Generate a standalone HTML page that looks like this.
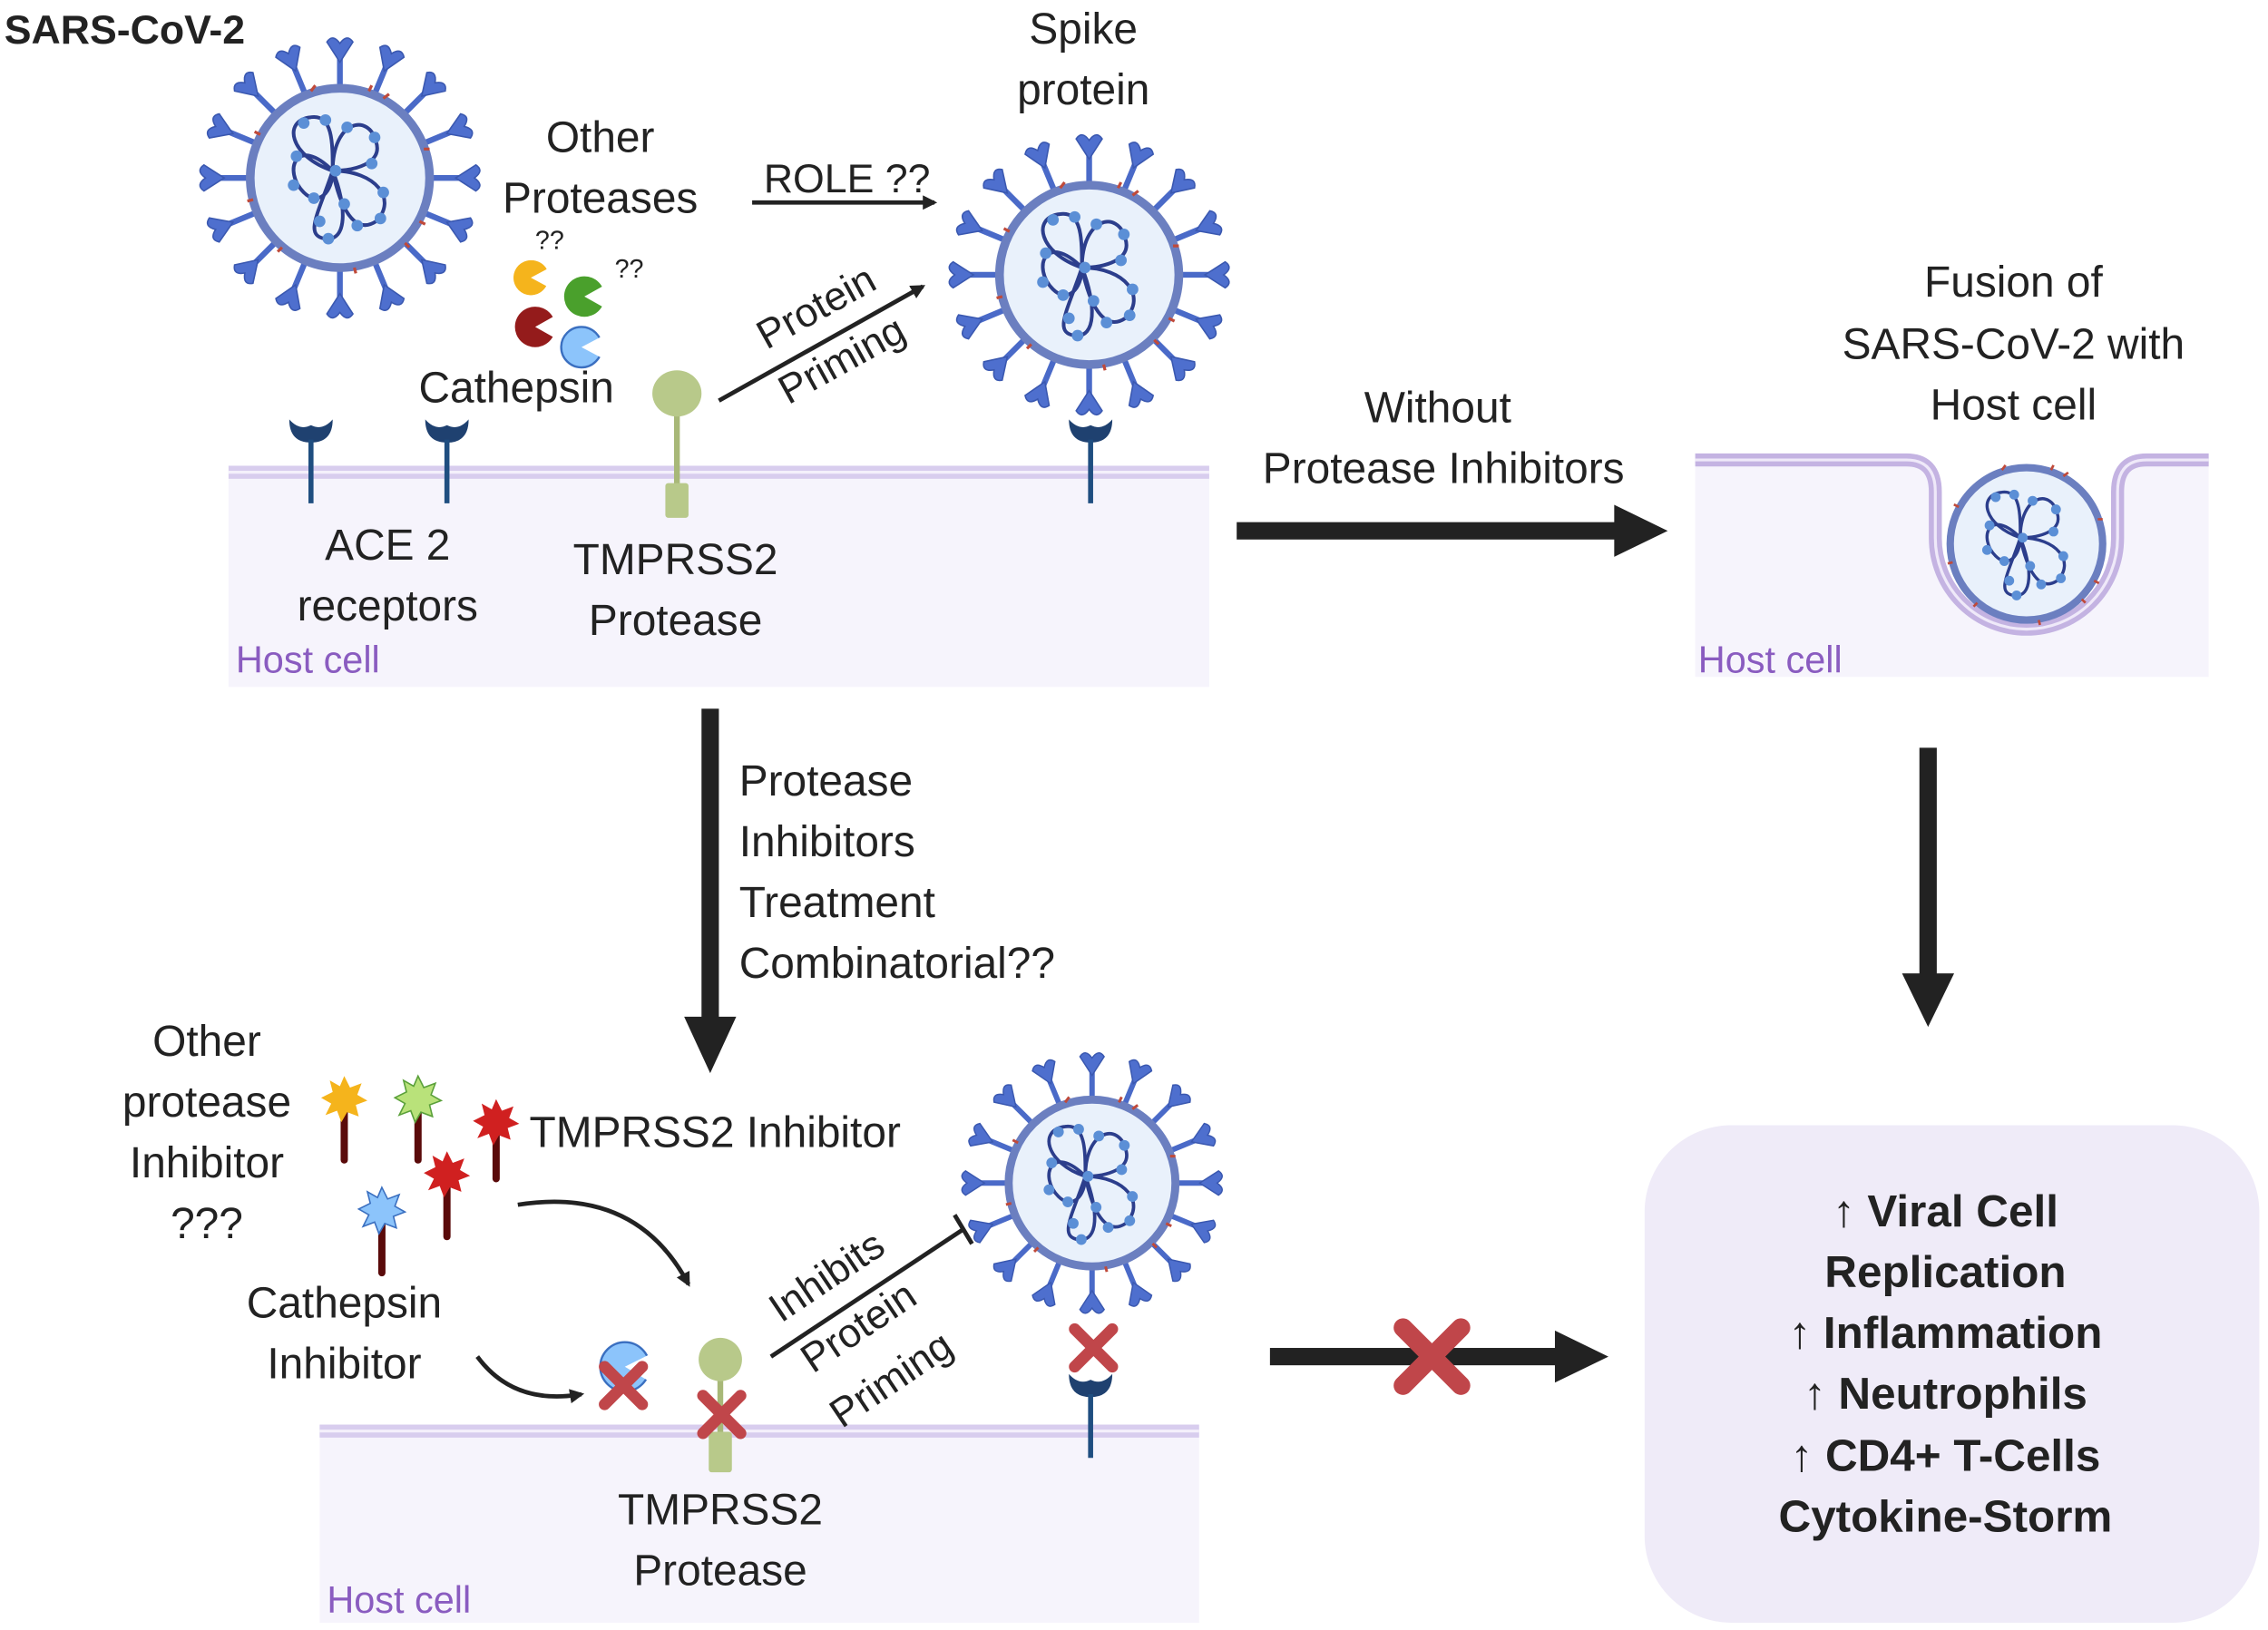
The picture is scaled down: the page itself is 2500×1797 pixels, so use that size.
<!DOCTYPE html>
<html><head><meta charset="utf-8"><style>
html,body{margin:0;padding:0;background:#fff;}
svg{display:block;}
text{font-family:"Liberation Sans",sans-serif;fill:#222;}
</style></head><body>
<svg width="2500" height="1797" viewBox="0 0 1568 1127" xmlns="http://www.w3.org/2000/svg">
<defs>
<g id="sp">
 <line x1="0" y1="-60" x2="0" y2="-84" stroke="#4a6ac8" stroke-width="4"/>
 <path d="M0,-80 L-9,-94 Q-5,-100 0,-93 Q5,-100 9,-94 Z" fill="#4e6fce" stroke="#3a58b0" stroke-width="1"/>
</g>
<g id="core">
 <circle r="62" fill="#e9f1fb" stroke="#6b7fc0" stroke-width="6"/>
 <g fill="none" stroke="#2c3e8c" stroke-width="2.5">
  <path d="M-5,-5 C-30,-30 -40,-5 -25,10 C-15,20 -5,10 -5,-5"/>
  <path d="M-5,-5 C-5,-40 20,-45 25,-25 C30,-10 10,-5 -5,-5"/>
  <path d="M-5,-5 C25,-5 40,15 25,30 C10,40 0,20 -5,-5"/>
  <path d="M-5,-5 C-15,25 -25,40 -10,42 C5,44 5,20 -5,-5"/>
  <path d="M-5,-5 C-35,-15 -40,-40 -20,-42 C-5,-44 -5,-25 -5,-5"/>
 </g>
 <g fill="#5b8fd6">
  <circle cx="-30" cy="-15" r="4"/><circle cx="-32" cy="5" r="4"/><circle cx="-18" cy="14" r="4"/>
  <circle cx="5" cy="-35" r="4"/><circle cx="24" cy="-28" r="4"/><circle cx="22" cy="-10" r="4"/>
  <circle cx="30" cy="10" r="4"/><circle cx="28" cy="28" r="4"/><circle cx="12" cy="33" r="4"/>
  <circle cx="-14" cy="30" r="4"/><circle cx="-8" cy="42" r="4"/><circle cx="3" cy="18" r="4"/>
  <circle cx="-25" cy="-38" r="4"/><circle cx="-10" cy="-40" r="4"/><circle cx="-3" cy="-5" r="4"/>
 </g>
 <g stroke="#c04a3a" stroke-width="2">
  <path d="M-20,-60 l3,-4 M30,-55 l4,-3 M58,-20 l4,0 M55,30 l4,2 M20,-60 l2,-4 M-55,-30 l-4,-2 M-60,15 l-4,1 M-40,48 l-3,3 M10,62 l1,4 M45,45 l3,3"/>
 </g>
</g>
<g id="virus">
 <use href="#sp"/><use href="#sp" transform="rotate(22.5)"/><use href="#sp" transform="rotate(45)"/><use href="#sp" transform="rotate(67.5)"/>
 <use href="#sp" transform="rotate(90)"/><use href="#sp" transform="rotate(112.5)"/><use href="#sp" transform="rotate(135)"/><use href="#sp" transform="rotate(157.5)"/>
 <use href="#sp" transform="rotate(180)"/><use href="#sp" transform="rotate(202.5)"/><use href="#sp" transform="rotate(225)"/><use href="#sp" transform="rotate(247.5)"/>
 <use href="#sp" transform="rotate(270)"/><use href="#sp" transform="rotate(292.5)"/><use href="#sp" transform="rotate(315)"/><use href="#sp" transform="rotate(337.5)"/>
 <use href="#core"/>
</g>
<g id="rec">
 <path d="M-15,0 Q-15,16 0,16 Q15,16 15,0 Q8,8 0,4 Q-8,8 -15,0 Z" fill="#1f4170"/>
 <line x1="0" y1="14" x2="0" y2="58" stroke="#1f4e80" stroke-width="3.5"/>
</g>
<g id="rx">
 <path d="M-13,-13 L13,13 M13,-13 L-13,13" stroke="#c0464a" stroke-width="8" stroke-linecap="round"/>
</g>
<marker id="ah" markerWidth="10" markerHeight="10" refX="8" refY="5" orient="auto" markerUnits="userSpaceOnUse"><path d="M0,0 L10,5 L0,10 Z" fill="#222"/></marker>
<marker id="ah2" markerWidth="14" markerHeight="14" refX="10" refY="7" orient="auto" markerUnits="userSpaceOnUse"><path d="M0,0 L14,7 L0,14 Z" fill="#222"/></marker>
</defs>

<!-- top host cell -->
<rect x="158" y="322" width="678" height="153" fill="#f6f4fc"/>
<rect x="158" y="322" width="678" height="9" fill="#d8cdee"/>
<line x1="158" y1="326.5" x2="836" y2="326.5" stroke="#f4f0fb" stroke-width="2"/>
<text x="163" y="465" font-size="26" style="fill:#8a5cc0">Host cell</text>

<text x="3" y="30" font-size="28" font-weight="bold">SARS-CoV-2</text>
<use href="#virus" transform="translate(235,123)"/>
<text x="415" y="105" font-size="30" text-anchor="middle">Other</text>
<text x="415" y="147" font-size="30" text-anchor="middle">Proteases</text>
<text x="380" y="172" font-size="18" text-anchor="middle">??</text>
<text x="435" y="192" font-size="18" text-anchor="middle">??</text>
<path d="M367,192 m0,-12 a12,12 0 1,0 11,7 l-11,5 l11,-6 a12,12 0 0,0 -11,-6z" fill="#f5b41c"/>
<circle cx="367" cy="192" r="12" fill="#f5b41c"/><path d="M367,192 L382,184 L382,200 Z" fill="#fff"/>
<circle cx="404" cy="205" r="14" fill="#4aa02c"/><path d="M404,205 L420,196 L420,214 Z" fill="#fff"/>
<circle cx="370" cy="226" r="14" fill="#941b1b"/><path d="M370,226 L386,217 L386,235 Z" fill="#fff"/>
<circle cx="402" cy="240" r="14" fill="#8cc4fb" stroke="#3a6fc0" stroke-width="1.5"/><path d="M402,240 L419,231 L419,249 Z" fill="#fff"/>
<text x="357" y="278" font-size="30" text-anchor="middle">Cathepsin</text>

<use href="#rec" transform="translate(215,290)"/>
<use href="#rec" transform="translate(309,290)"/>
<use href="#rec" transform="translate(754,290)"/>
<line x1="468" y1="285" x2="468" y2="338" stroke="#a8b878" stroke-width="4"/>
<rect x="460" y="334" width="16" height="24" rx="2" fill="#b8c98a"/>
<ellipse cx="468" cy="272" rx="17" ry="16" fill="#b8c98a"/>
<text x="268" y="387" font-size="30" text-anchor="middle">ACE 2</text>
<text x="268" y="429" font-size="30" text-anchor="middle">receptors</text>
<text x="467" y="397" font-size="30" text-anchor="middle">TMPRSS2</text>
<text x="467" y="439" font-size="30" text-anchor="middle">Protease</text>

<text x="528" y="133" font-size="28">ROLE ??</text>
<line x1="520" y1="140" x2="646" y2="140" stroke="#222" stroke-width="3" marker-end="url(#ah)"/>
<line x1="497" y1="277" x2="638" y2="198" stroke="#222" stroke-width="3" marker-end="url(#ah)"/>
<text transform="translate(530,242) rotate(-29)" font-size="28">Protein</text>
<text transform="translate(545,280) rotate(-29)" font-size="28">Priming</text>

<text x="749" y="30" font-size="30" text-anchor="middle">Spike</text>
<text x="749" y="72" font-size="30" text-anchor="middle">protein</text>
<use href="#virus" transform="translate(753,190)"/>

<!-- without arrow -->
<text x="994" y="292" font-size="30" text-anchor="middle">Without</text>
<text x="998" y="334" font-size="30" text-anchor="middle">Protease Inhibitors</text>
<rect x="855" y="361" width="266" height="12" fill="#222"/>
<path d="M1116,349 L1153,367 L1116,385 Z" fill="#222"/>

<!-- fusion -->
<text x="1392" y="205" font-size="30" text-anchor="middle">Fusion of</text>
<text x="1392" y="248" font-size="30" text-anchor="middle">SARS-CoV-2 with</text>
<text x="1392" y="290" font-size="30" text-anchor="middle">Host cell</text>
<path d="M1172,318 L1318,318 Q1338,318 1338,340 L1338,372 A63,63 0 0 0 1464,372 L1464,340 Q1464,318 1484,318 L1527,318 L1527,468 L1172,468 Z" fill="#f6f4fc"/>
<path d="M1172,318 L1318,318 Q1338,318 1338,340 L1338,372 A63,63 0 0 0 1464,372 L1464,340 Q1464,318 1484,318 L1527,318" fill="none" stroke="#c4b3e2" stroke-width="9"/>
<path d="M1172,318 L1318,318 Q1338,318 1338,340 L1338,372 A63,63 0 0 0 1464,372 L1464,340 Q1464,318 1484,318 L1527,318" fill="none" stroke="#efe9f9" stroke-width="2"/>
<g transform="translate(1401,376) scale(0.85)"><use href="#core"/></g>
<text x="1174" y="465" font-size="26" style="fill:#8a5cc0">Host cell</text>

<!-- right down arrow -->
<rect x="1327" y="517" width="12" height="160" fill="#222"/>
<path d="M1315,673 L1333,710 L1351,673 Z" fill="#222"/>

<!-- middle down arrow -->
<rect x="485" y="490" width="12" height="215" fill="#222"/>
<path d="M473,703 L491,742 L509,703 Z" fill="#222"/>
<text x="511" y="550" font-size="30">Protease</text>
<text x="511" y="592" font-size="30">Inhibitors</text>
<text x="511" y="634" font-size="30">Treatment</text>
<text x="511" y="676" font-size="30">Combinatorial??</text>

<!-- bottom host cell -->
<rect x="221" y="985" width="608" height="137" fill="#f6f4fc"/>
<rect x="221" y="985" width="608" height="9" fill="#d8cdee"/>
<line x1="221" y1="989.5" x2="829" y2="989.5" stroke="#f4f0fb" stroke-width="2"/>
<text x="226" y="1115" font-size="26" style="fill:#8a5cc0">Host cell</text>

<text x="143" y="730" font-size="30" text-anchor="middle">Other</text>
<text x="143" y="772" font-size="30" text-anchor="middle">protease</text>
<text x="143" y="814" font-size="30" text-anchor="middle">Inhibitor</text>
<text x="143" y="856" font-size="30" text-anchor="middle">???</text>

<g stroke="#5a0a0a" stroke-width="5" stroke-linecap="round">
<line x1="238" y1="765" x2="238" y2="802"/>
<line x1="289" y1="765" x2="289" y2="802"/>
<line x1="343" y1="782" x2="343" y2="815"/>
<line x1="309" y1="815" x2="309" y2="855"/>
<line x1="264" y1="842" x2="264" y2="880"/>
</g>
<g stroke-width="1">
<polygon transform="translate(238,760)" points="0,-16 4,-8 12,-11 9,-3 16,1 8,4 10,12 2,9 -2,16 -5,8 -13,11 -9,3 -16,-1 -8,-5 -10,-13 -3,-9" fill="#f5b41c"/>
<polygon transform="translate(289,760)" points="0,-16 4,-8 12,-11 9,-3 16,1 8,4 10,12 2,9 -2,16 -5,8 -13,11 -9,3 -16,-1 -8,-5 -10,-13 -3,-9" fill="#b9e27a" stroke="#5aa03a"/>
<polygon transform="translate(343,776)" points="0,-16 4,-8 12,-11 9,-3 16,1 8,4 10,12 2,9 -2,16 -5,8 -13,11 -9,3 -16,-1 -8,-5 -10,-13 -3,-9" fill="#d02020"/>
<polygon transform="translate(309,812)" points="0,-16 4,-8 12,-11 9,-3 16,1 8,4 10,12 2,9 -2,16 -5,8 -13,11 -9,3 -16,-1 -8,-5 -10,-13 -3,-9" fill="#d02020"/>
<polygon transform="translate(264,837)" points="0,-16 4,-8 12,-11 9,-3 16,1 8,4 10,12 2,9 -2,16 -5,8 -13,11 -9,3 -16,-1 -8,-5 -10,-13 -3,-9" fill="#8cc4fb" stroke="#3a6fc0"/>
</g>
<text x="366" y="793" font-size="30">TMPRSS2 Inhibitor</text>
<path d="M358,833 Q440,820 476,888" fill="none" stroke="#222" stroke-width="3" marker-end="url(#ah)"/>
<text x="238" y="911" font-size="30" text-anchor="middle">Cathepsin</text>
<text x="238" y="953" font-size="30" text-anchor="middle">Inhibitor</text>
<path d="M330,938 Q355,972 402,964" fill="none" stroke="#222" stroke-width="3" marker-end="url(#ah)"/>

<circle cx="432" cy="945" r="17" fill="#8cc4fb" stroke="#3a6fc0" stroke-width="1.5"/><path d="M432,945 L452,935 L452,957 Z" fill="#fff"/>
<use href="#rx" transform="translate(431,958)"/>
<line x1="498" y1="950" x2="498" y2="995" stroke="#a8b878" stroke-width="4"/>
<rect x="490" y="990" width="16" height="28" rx="2" fill="#b8c98a"/>
<circle cx="498" cy="940" r="15" fill="#b8c98a"/>
<use href="#rx" transform="translate(499,978)"/>

<line x1="533" y1="938" x2="666" y2="850" stroke="#222" stroke-width="3"/>
<line x1="660" y1="840" x2="672" y2="860" stroke="#222" stroke-width="3"/>
<text transform="translate(540,915) rotate(-34)" font-size="28">Inhibits</text>
<text transform="translate(562,950) rotate(-34)" font-size="28">Protein</text>
<text transform="translate(582,988) rotate(-34)" font-size="28">Priming</text>

<use href="#virus" transform="translate(755,818) scale(0.93)"/>
<use href="#rx" transform="translate(756,932)"/>
<use href="#rec" transform="translate(754,950)"/>
<text x="498" y="1054" font-size="30" text-anchor="middle">TMPRSS2</text>
<text x="498" y="1096" font-size="30" text-anchor="middle">Protease</text>

<!-- bottom blocked arrow -->
<rect x="878" y="932" width="200" height="12" fill="#222"/>
<path d="M1075,920 L1112,938 L1075,956 Z" fill="#222"/>
<path d="M970,918 L1010,958 M1010,918 L970,958" stroke="#c0464a" stroke-width="13" stroke-linecap="round"/>

<!-- results -->
<rect x="1137" y="778" width="425" height="344" rx="60" fill="#efebf8"/>
<g font-size="31" font-weight="bold" text-anchor="middle">
<text x="1345" y="848">↑ Viral Cell</text>
<text x="1345" y="890">Replication</text>
<text x="1345" y="932">↑ Inflammation</text>
<text x="1345" y="974">↑ Neutrophils</text>
<text x="1345" y="1017">↑ CD4+ T-Cells</text>
<text x="1345" y="1059">Cytokine-Storm</text>
</g>
</svg>
</body></html>
